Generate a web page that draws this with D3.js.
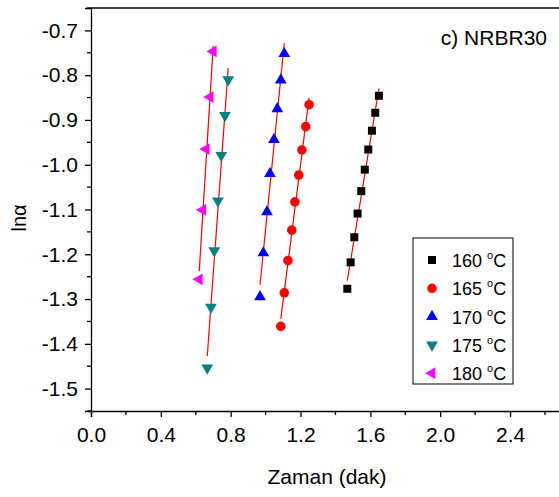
<!DOCTYPE html>
<html>
<head>
<meta charset="utf-8">
<script src="https://cdn.jsdelivr.net/npm/d3@7"></script>
<style>
  body { margin: 0; background: #fff; }
  svg { display: block; font-family: "Liberation Sans", Arial, sans-serif; }
  .tick text { font-size: 21px; fill: #000; }
  .axis path, .axis line { stroke: #000; stroke-width: 1.3; }
</style>
</head>
<body>
<svg width="559" height="497"></svg>
<script>
const temps = ["160", "165", "170", "175", "180"]
const colors = ["#000000", "#ff0000", "#0000ff", "#008080", "#ff00ff"]
const shapes = ["square", "circle", "up", "down", "left"]

const x160 = [1.649, 1.628, 1.609, 1.588, 1.568, 1.548, 1.527, 1.508, 1.487, 1.468]
const y160 = [-0.846, -0.884, -0.924, -0.966, -1.011, -1.059, -1.109, -1.162, -1.218, -1.277]
const x165 = [1.249, 1.230, 1.208, 1.190, 1.168, 1.150, 1.128, 1.107, 1.087]
const y165 = [-0.866, -0.915, -0.967, -1.023, -1.083, -1.146, -1.214, -1.286, -1.361]
const x170 = [1.107, 1.087, 1.067, 1.048, 1.025, 1.008, 0.987, 0.968]
const y170 = [-0.752, -0.811, -0.875, -0.944, -1.020, -1.105, -1.197, -1.295]
const x175 = [0.786, 0.767, 0.746, 0.727, 0.706, 0.687, 0.666]
const y175 = [-0.810, -0.890, -0.979, -1.081, -1.192, -1.318, -1.454]
const x180 = [0.700, 0.682, 0.660, 0.640, 0.620]
const y180 = [-0.747, -0.849, -0.965, -1.101, -1.256]

const xTicks = [0.0, 0.4, 0.8, 1.2, 1.6, 2.0, 2.4]
const yTicks = [-0.7, -0.8, -0.9, -1.0, -1.1, -1.2, -1.3, -1.4, -1.5]

const series = [[x160, y160], [x165, y165], [x170, y170], [x175, y175], [x180, y180]]
    .map((s, i) => ({
        temp: temps[i], color: colors[i], shape: shapes[i],
        points: s[0].map((v, j) => [v, s[1][j]])
    }))

const svg = d3.select("svg")

const x = d3.scaleLinear().domain([0, 2.8]).range([91, 91 + 2.8 * 174.6])
const y = d3.scaleLinear().domain([-1.55, -0.65]).range([411, 8])

// frame (top and right edges)
svg.append("line")
    .attr("x1", x(0)).attr("x2", x(2.8))
    .attr("y1", y(-0.65)).attr("y2", y(-0.65))
    .attr("stroke", "#000").attr("stroke-width", 1.3)
svg.append("line")
    .attr("x1", x(2.8)).attr("x2", x(2.8))
    .attr("y1", y(-0.65)).attr("y2", y(-1.55))
    .attr("stroke", "#000").attr("stroke-width", 1.3)

// axes
const xAxis = svg.append("g").attr("class", "axis")
    .attr("transform", "translate(0," + y(-1.55) + ")")
    .call(d3.axisBottom(x).tickValues(xTicks).tickFormat(d3.format(".1f")).tickSizeOuter(0).tickSize(6).tickPadding(6))
xAxis.selectAll(".minor")
    .data(d3.range(0.2, 2.8, 0.4))
    .enter().append("line")
    .attr("x1", d => x(d)).attr("x2", d => x(d))
    .attr("y1", 0).attr("y2", 4)
    .attr("stroke", "#000").attr("stroke-width", 1.3)

const yAxis = svg.append("g").attr("class", "axis")
    .attr("transform", "translate(" + x(0) + ",0)")
    .call(d3.axisLeft(y).tickValues(yTicks).tickFormat(d3.format(".1f")).tickSizeOuter(0).tickSize(6).tickPadding(7))
yAxis.selectAll(".minor")
    .data([-0.65, -0.75, -0.85, -0.95, -1.05, -1.15, -1.25, -1.35, -1.45, -1.55])
    .enter().append("line")
    .attr("x1", 0).attr("x2", -4)
    .attr("y1", d => y(d)).attr("y2", d => y(d))
    .attr("stroke", "#000").attr("stroke-width", 1.3)

yAxis.selectAll(".tick text").text(d => d3.format(".1f")(d).replace("−", "-"))
xAxis.selectAll(".tick text").attr("dy", "0.9em")

// axis titles
svg.append("text")
    .attr("x", 327).attr("y", 484)
    .attr("text-anchor", "middle")
    .attr("font-size", 21)
    .text("Zaman (dak)")

svg.append("text")
    .attr("transform", "translate(26,218) rotate(-90)")
    .attr("text-anchor", "middle")
    .attr("font-size", 20)
    .text("ln\u03b1")

svg.append("text")
    .attr("x", 547).attr("y", 45)
    .attr("text-anchor", "end")
    .attr("font-size", 21)
    .text("c) NRBR30")

// linear fit lines
function fit(pts) {
    const mx = d3.mean(pts, d => d[0]), my = d3.mean(pts, d => d[1])
    const b = d3.sum(pts, d => (d[0] - mx) * (d[1] - my)) / d3.sum(pts, d => (d[0] - mx) ** 2)
    const ext = d3.extent(pts, d => d[0])
    return ext.map(v => [v, my + b * (v - mx)])
}

const line = d3.line().x(d => x(d[0])).y(d => y(d[1]))

svg.append("g").selectAll("path")
    .data(series)
    .enter().append("path")
    .attr("d", d => line(fit(d.points)))
    .attr("fill", "none")
    .attr("stroke", "#ff0000")
    .attr("stroke-width", 1.2)

// markers
function marker(shape) {
    if (shape === "square") return d3.symbol(d3.symbolSquare, 64)()
    if (shape === "circle") return d3.symbol(d3.symbolCircle, 72)()
    return d3.symbol(d3.symbolTriangle, 60)()
}
const rot = { up: 0, down: 180, left: -90, square: 0, circle: 0 }

series.forEach(s => {
    svg.append("g").selectAll("path")
        .data(s.points)
        .enter().append("path")
        .attr("d", marker(s.shape))
        .attr("transform", d => "translate(" + x(d[0]) + "," + y(d[1]) + ") rotate(" + rot[s.shape] + ")")
        .attr("fill", s.color)
})

// legend
const legend = svg.append("g")
legend.append("rect")
    .attr("x", 413).attr("y", 238)
    .attr("width", 100).attr("height", 146)
    .attr("fill", "#fff").attr("stroke", "#000").attr("stroke-width", 1)

const items = legend.selectAll("g.item")
    .data(series)
    .enter().append("g")
    .attr("class", "item")
    .attr("transform", (d, i) => "translate(0," + (260 + i * 28.3) + ")")

items.append("path")
    .attr("d", d => marker(d.shape))
    .attr("transform", d => "translate(432,0) rotate(" + rot[d.shape] + ")")
    .attr("fill", d => d.color)

const lt = items.append("text")
    .attr("x", 452).attr("y", 7)
    .attr("font-size", 18)
lt.append("tspan").text(d => d.temp + " ")
lt.append("tspan").attr("font-size", 11).attr("dy", -8).text("o")
lt.append("tspan").attr("dy", 8).text("C")
</script>
</body>
</html>
